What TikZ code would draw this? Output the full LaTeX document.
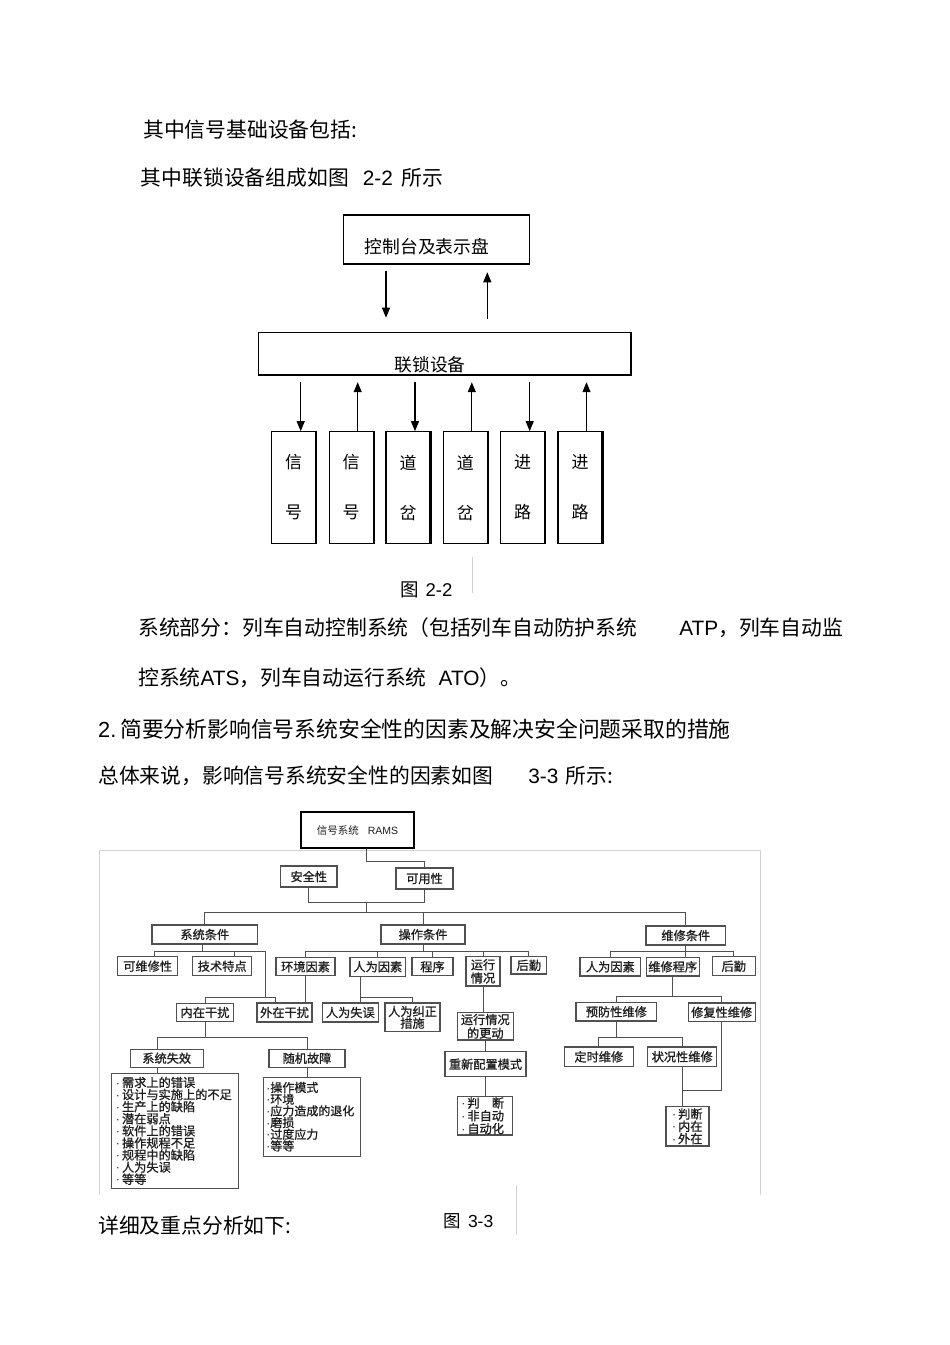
\documentclass[tikz,border=0pt]{standalone}
\usepackage{fontspec}
\setmainfont{Noto Sans CJK SC}
\newfontfamily\lat{Liberation Sans}
\newfontfamily\scan[FakeBold=1]{Noto Sans CJK SC}
\usetikzlibrary{arrows.meta,positioning}

\definecolor{scanline}{HTML}{505050}
\definecolor{scanframe}{HTML}{D2D2D2}
\definecolor{scantext}{HTML}{1E1E1E}

\newcommand{\dt}{{\lat ·}\,}

\tikzset{
  body/.style={anchor=west, inner sep=0pt, font=\fontsize{20.8}{24}\selectfont},
  caption/.style={anchor=west, inner sep=0pt, font=\fontsize{18.5}{20}\selectfont},
  box/.style={draw, line width=1.1pt, inner sep=0pt},
  vbox/.style={box, minimum width=44pt, minimum height=111.6pt, align=center, font=\fontsize{17}{50}\selectfont},
  arr/.style={-{Triangle[length=10pt,width=8pt]}, line width=1.1pt},
  sbox/.style={draw=scanline, line width=1.1pt, inner sep=0pt, text=scantext, align=center, font=\scan\fontsize{12.2}{13.3}\selectfont},
  sb/.style n args={2}{sbox, minimum width=#1pt, minimum height=#2pt},
  lst/.style={sbox, align=left, inner xsep=4pt},
  tl/.style={draw=scanline, line width=1pt},
}

\begin{document}
\begin{tikzpicture}[x=1pt,y=-1pt]
    \useasboundingbox (0,0) rectangle (950,1345);

    % Text above figure 2-2
    \node[body] (l1) at (143,130) {其中信号基础设备包括:};
    \node[body] (l2) at (140.7,178) {其中联锁设备组成如图\hspace{14pt}{\lat 2-2}\hspace{9pt}所示};

    % Figure 2-2: console and interlocking
    \node[box, minimum width=185.7pt, minimum height=49pt] (ctl) at (436.2,239.5) {};
    \node[inner sep=0pt, font=\fontsize{17.8}{20}\selectfont] (ctltxt) at (427,246.5) {控制台及表示盘};
    \node[box, minimum width=371.7pt, minimum height=42.3pt] (lock) at (444.2,353.8) {};
    \draw[line width=2pt] (lock.north east) -- (lock.south east);
    \node[inner sep=0pt, font=\fontsize{17.8}{20}\selectfont] (locktxt) at (430,365) {联锁设备};

    \coordinate (a1) at ([xshift=-50.2pt]ctl.south);
    \coordinate (a2) at ([xshift=51.1pt]ctl.south);
    \draw[arr, shorten <=6pt, shorten >=14.4pt] (a1) -- (a1 |- lock.north);
    \draw[arr, shorten <=12.7pt, shorten >=7.7pt] (a2 |- lock.north) -- (a2);

    % Field devices
    \foreach \n/\x/\a/\b in {s1/293.7/信/号, s2/351.2/信/号, s3/408/道/岔,
                             s4/465.3/道/岔, s5/522.7/进/路, s6/580/进/路} {
        \node[vbox] (\n) at (\x,487.5) {\a\\\b};
        \draw[line width=2pt] (\n.north east) -- (\n.south east);
    }
    \foreach \n in {s1,s3,s5} { % commands down
        \coordinate (t\n) at ([xshift=7pt]\n.north);
        \draw[arr, shorten <=6.7pt] (t\n |- lock.south) -- (t\n);
    }
    \foreach \n in {s2,s4,s6} { % states up
        \coordinate (t\n) at ([xshift=6.5pt]\n.north);
        \draw[arr, shorten >=6.7pt] (t\n) -- (t\n |- lock.south);
    }

    \draw[scanframe, line width=0.8pt] (472.3,556.7) -- (472.3,593.3);
    \node[caption] (cap1) at (400,590) {图\hspace{7pt}{\lat 2-2}};

    % Text between the figures
    \node[body] (l3) at (138,628) {系统部分：列车自动控制系统（包括列车自动防护系统\hspace{42pt}{\lat ATP}，列车自动监};
    \node[body] (l4) at (138,678) {控系统{\lat ATS}，列车自动运行系统\hspace{12pt}{\lat ATO}）。};
    \node[body, font=\fontsize{21.8}{24}\selectfont] (l5) at (98,729) {{\lat 2.}\hspace{4pt}简要分析影响信号系统安全性的因素及解决安全问题采取的措施};
    \node[body] (l6) at (98,776) {总体来说，影响信号系统安全性的因素如图\hspace{35pt}{\lat 3-3}\hspace{7pt}所示:};

    % Figure 3-3 (scanned tree)
    \draw[scanframe, line width=0.8pt] (99,1195) -- (99,850) -- (760,850) -- (760,1195);

    \node[sbox, draw=black, line width=1.4pt, minimum width=113pt, minimum height=36pt,
          font=\fontsize{10.5}{12}\selectfont] (ram) at (357.5,830) {信号系统\hspace{9pt}{\lat RAMS}};
    \node[sb={56.3}{21}] (aqx) at (308.8,876.5) {安全性};
    \node[sb={57}{21}] (kyx) at (424.5,878.5) {可用性};

    \node[sb={105.7}{19}] (xt) at (204.8,934.5) {系统条件};
    \node[sb={84}{19}] (cz) at (423,934.5) {操作条件};
    \node[sb={79.7}{19}] (wx) at (685.8,935.5) {维修条件};

    \node[sb={60}{19}] (kwx) at (147.7,966.2) {可维修性};
    \node[sb={59}{19}] (jstd) at (222.2,966.2) {技术特点};
    \node[sb={59}{18}] (hjys) at (305.5,966.7) {环境因素};
    \node[sb={55.7}{19}] (rwys) at (377.8,966.7) {人为因素};
    \node[sb={41}{18}] (cx) at (432.5,966.7) {程序};
    \node[sb={34}{29.3}] (yxqk) at (483,971.3) {运行\\情况};
    \node[sb={35.7}{17.3}] (hq) at (528.8,965.3) {后勤};
    \node[sb={60.7}{18.3}] (wrys) at (610.3,966.8) {人为因素};
    \node[sb={53.3}{18.3}] (wxcx) at (672.7,966.8) {维修程序};
    \node[sb={42.7}{19}] (whq) at (733.7,966.2) {后勤};

    \node[sb={56.6}{18.4}] (nzgr) at (205,1012.5) {内在干扰};
    \node[sb={55}{19}] (wzgr) at (284.5,1012.5) {外在干扰};
    \node[sb={56}{19}] (rwsw) at (350.3,1012.5) {人为失误};
    \node[sb={55}{28.7}, font=\scan\fontsize{12.2}{11.7}\selectfont] (rwjz) at (412.5,1017.3) {人为纠正\\措施};
    \node[sb={56}{27.3}, font=\scan\fontsize{12.2}{13.6}\selectfont] (ggd) at (485.3,1026.3) {运行情况\\的更动};
    \node[sb={81}{25}] (cxpz) at (485.5,1064.2) {重新配置模式};
    \node[sb={80.7}{18.3}] (yf) at (616.3,1011.8) {预防性维修};
    \node[sb={66.7}{18.7}] (xf) at (721.7,1012.3) {修复性维修};
    \node[sb={69}{19.7}] (dswx) at (598.8,1056.8) {定时维修};
    \node[sb={69}{19.7}] (zkwx) at (682.2,1056.8) {状况性维修};
    \node[sb={73.3}{18.3}] (xtsx) at (166.7,1058.2) {系统失效};
    \node[sb={76}{18}] (sjgz) at (307,1058.3) {随机故障};

    % Lists
    \node[lst, text width=119pt, minimum height=115pt, font=\scan\fontsize{12.2}{12.1}\selectfont] (lb1) at (175.4,1130.8)
        {\dt 需求上的错误\\\dt 设计与实施上的不足\\\dt 生产上的缺陷\\\dt 潜在弱点\\\dt 软件上的错误\\\dt 操作规程不足\\\dt 规程中的缺陷\\\dt 人为失误\\\dt 等等};
    \node[lst, inner xsep=3pt, text width=90.7pt, minimum height=78.7pt, font=\scan\fontsize{12}{11.7}\selectfont] (lb2) at (311.7,1116.7)
        {{\lat ·}操作模式\\{\lat ·}环境\\{\lat ·}应力造成的退化\\{\lat ·}磨损\\{\lat ·}过度应力\\{\lat ·}等等};
    \node[lst, text width=47.4pt, minimum height=38.3pt, font=\scan\fontsize{12.2}{12.8}\selectfont] (lb3) at (485,1115.8)
        {\dt 判\hspace{1em}断\\\dt 非自动\\\dt 自动化};
    \node[lst, inner xsep=6pt, text width=31pt, minimum height=39.3pt, font=\scan\fontsize{12.2}{12.3}\selectfont] (lb4) at (687.5,1126.3)
        {\dt 判断\\\dt 内在\\\dt 外在};

    % Tree lines
    \coordinate (r1) at (366.7,861);
    \coordinate (j1) at (366.7,902.7);
    \coordinate (j2) at (366.7,912.3);
    \draw[tl] (ram.south -| r1) -- (r1) -| (kyx.north);
    \draw[tl] (aqx.south) |- (j1) -| (kyx.south);
    \draw[tl] (j1) -- (j2);
    \foreach \c in {xt, cz, wx}
        \draw[tl] (j2) -| (\c.north);

    % system conditions
    \coordinate (x3) at (202,951.7);
    \coordinate (g1) at (265,997);
    \draw[tl] (xt.south -| x3) -- (x3);
    \draw[tl] (x3) -| ([xshift=7pt]kwx.north);
    \draw[tl] (x3) -| ([xshift=12pt]jstd.north);
    \draw[tl] (x3) -| (g1) -| (nzgr.north);
    \draw[tl] (g1) -| ([xshift=-9.5pt]wzgr.north);
    \draw[tl] (hjys.south) -- (hjys.south |- wzgr.north);

    % operating conditions
    \coordinate (c3) at (423,951.7);
    \draw[tl] (cz.south) -- (c3);
    \foreach \c in {hjys, rwys, cx, yxqk, hq}
        \draw[tl] (c3) -| (\c.north);
    \coordinate (h1) at (360,997);
    \draw[tl] (rwys.south -| h1) -- (rwsw.north -| h1);
    \draw[tl] (h1) -| (rwjz.north);
    \draw[tl] (yxqk.south) -- (yxqk.south |- ggd.north);
    \draw[tl] (ggd.south) -- (ggd.south |- cxpz.north);
    \draw[tl] (cxpz.south) -- (cxpz.south |- lb3.north);

    % maintenance conditions
    \coordinate (w3) at (685.8,951.7);
    \draw[tl] (wx.south) -- (w3);
    \draw[tl] (w3) -| (wrys.north);
    \draw[tl] (w3) -| (whq.north);
    \draw[tl] (w3) -- (w3 |- wxcx.north);
    \draw[tl] (wxcx.south) -- ++(0,19.7) coordinate (w4);
    \draw[tl] (w4) -| (yf.north);
    \draw[tl] (w4) -| (xf.north);
    \draw[tl] (yf.south) -- ++(0,15.7) coordinate (w5);
    \draw[tl] (w5) -| (dswx.north);
    \draw[tl] (w5) -| (zkwx.north);
    \draw[tl] (zkwx.south) -- (zkwx.south |- lb4.north);
    \coordinate (w6) at (682.2,1090.7);
    \draw[tl] (xf.south) |- (w6);

    % inner disturbance
    \draw[tl] (nzgr.south) -- ++(0,15) coordinate (n1);
    \draw[tl] (n1) -| ([xshift=-9pt]xtsx.north);
    \draw[tl] (n1) -| (sjgz.north);
    \coordinate (n3) at ([xshift=-9pt]xtsx.south);
    \draw[tl] (n3) -- (n3 |- lb1.north);
    \draw[tl] (sjgz.south) -- (sjgz.south |- lb2.north);

    % caption and text below
    \draw[scanframe, line width=0.8pt] (516,1185) -- (516,1235);
    \node[caption, font=\fontsize{17.5}{20}\selectfont] (cap2) at (443.3,1221) {图\hspace{7pt}{\lat 3-3}};
    \node[body] (l7) at (98,1226) {详细及重点分析如下:};

\end{tikzpicture}
\end{document}
